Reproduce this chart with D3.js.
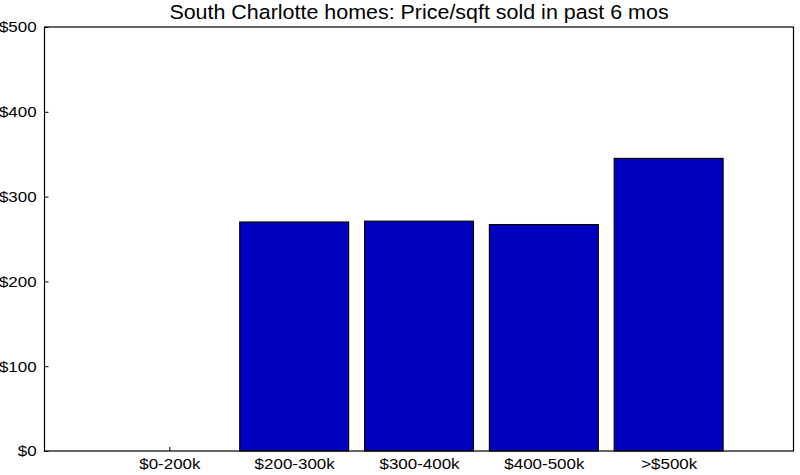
<!DOCTYPE html>
<html>
<head>
<meta charset="utf-8">
<script src="https://d3js.org/d3.v7.min.js"></script>
<style>
  html, body { margin: 0; padding: 0; background: #fff; }
  svg { display: block; font-family: "Liberation Sans", Arial, sans-serif; }
</style>
</head>
<body>
<svg id="chart" width="800" height="475"></svg>
<script>
const title = "South Charlotte homes: Price/sqft sold in past 6 mos";
const categories = ["$0-200k", "$200-300k", "$300-400k", "$400-500k", ">$500k"];
const values = [0, 270, 271, 267, 345];
const yTicks = [0, 100, 200, 300, 400, 500];

const W = 800, H = 475;
const m = { left: 44.5, right: 6.5, top: 27, bottom: 24 };
const svg = d3.select("#chart");

const x = d3.scaleLinear().domain([0, categories.length + 1]).range([m.left, W - m.right]);
const y = d3.scaleLinear().domain([0, 500]).range([H - m.bottom, m.top]);
const barW = 0.872;
const stretch = 1.13;

// y tick marks (inside) + labels
const yAxis = d3.axisLeft(y).tickValues(yTicks).tickSize(-4).tickPadding(7)
  .tickFormat(d => "$" + d);
const gy = svg.append("g").attr("transform", `translate(${m.left},0)`).call(yAxis);
gy.select(".domain").remove();
gy.selectAll("line").attr("stroke", "#000");
gy.selectAll("text").attr("font-size", 15).attr("fill", "#000")
  .attr("font-family", "Liberation Sans, Arial, sans-serif")
  .attr("transform", `scale(${stretch},1)`);

// x ticks (inside) + labels
const xAxis = d3.axisBottom(x).tickValues(categories.map((c, i) => i + 1)).tickSize(-4).tickPadding(7)
  .tickFormat((d) => categories[d - 1]);
const gx = svg.append("g").attr("transform", `translate(0,${H - m.bottom})`).call(xAxis);
gx.select(".domain").remove();
gx.selectAll("line").attr("stroke", "#000");
gx.selectAll("text").attr("font-size", 15).attr("fill", "#000")
  .attr("font-family", "Liberation Sans, Arial, sans-serif")
  .attr("transform", `scale(${stretch},1)`);

// bars
svg.append("g").selectAll("rect")
  .data(values.map((v, i) => ({ v, i })).filter(d => d.v > 0))
  .join("rect")
  .attr("x", d => x(d.i + 1 - barW / 2))
  .attr("width", d => x(d.i + 1 + barW / 2) - x(d.i + 1 - barW / 2))
  .attr("y", d => y(d.v))
  .attr("height", d => y(0) - y(d.v))
  .attr("fill", "#0000c0")
  .attr("stroke", "#000")
  .attr("stroke-width", 1.2);

// frame
svg.append("rect")
  .attr("x", x(0)).attr("y", y(500))
  .attr("width", x(categories.length + 1) - x(0))
  .attr("height", y(0) - y(500))
  .attr("fill", "none").attr("stroke", "#000").attr("stroke-width", 1.2);

// title
const cx = (x(0) + x(categories.length + 1)) / 2;
svg.append("text")
  .attr("transform", `translate(${cx},19) scale(1.1,1)`)
  .attr("text-anchor", "middle")
  .attr("font-size", 19.5)
  .attr("fill", "#000")
  .text(title);
</script>
</body>
</html>
